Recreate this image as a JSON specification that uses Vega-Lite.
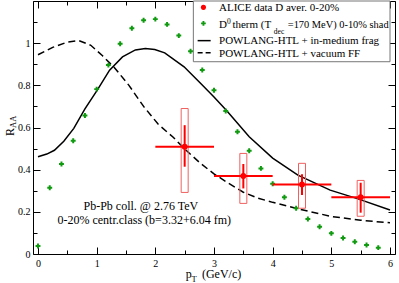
{
  "$schema": "https://vega.github.io/schema/vega-lite/v6.json",
  "width": 362,
  "height": 253,
  "autosize": {"type": "none"},
  "padding": {"left": 33, "top": 1, "right": 4, "bottom": 29},
  "background": "white",
  "config": {
    "view": {"stroke": "black", "strokeWidth": 1},
    "font": "Liberation Serif",
    "text": {"font": "Liberation Serif", "color": "black"}
  },
  "data": {"values": [{}]},
  "datasets": {
    "therm": [
      {"pt": 0.0, "raa": 0.038}, {"pt": 0.2, "raa": 0.314}, {"pt": 0.4, "raa": 0.427}, {"pt": 0.6, "raa": 0.537},
      {"pt": 0.8, "raa": 0.657}, {"pt": 1.0, "raa": 0.782}, {"pt": 1.2, "raa": 0.896}, {"pt": 1.4, "raa": 0.997},
      {"pt": 1.6, "raa": 1.071}, {"pt": 1.8, "raa": 1.109}, {"pt": 2.0, "raa": 1.114}, {"pt": 2.2, "raa": 1.089},
      {"pt": 2.4, "raa": 1.036}, {"pt": 2.6, "raa": 0.962}, {"pt": 2.8, "raa": 0.873}, {"pt": 3.0, "raa": 0.777},
      {"pt": 3.2, "raa": 0.678}, {"pt": 3.4, "raa": 0.58}, {"pt": 3.6, "raa": 0.49}, {"pt": 3.8, "raa": 0.406},
      {"pt": 4.0, "raa": 0.333}, {"pt": 4.2, "raa": 0.269}, {"pt": 4.4, "raa": 0.217}, {"pt": 4.6, "raa": 0.166},
      {"pt": 4.8, "raa": 0.129}, {"pt": 5.0, "raa": 0.098}, {"pt": 5.2, "raa": 0.076}, {"pt": 5.4, "raa": 0.058},
      {"pt": 5.6, "raa": 0.043}, {"pt": 5.8, "raa": 0.03}
    ],
    "solid": [
      {"pt": 0.0, "raa": 0.461}, {"pt": 0.15, "raa": 0.474}, {"pt": 0.28, "raa": 0.492}, {"pt": 0.44, "raa": 0.535},
      {"pt": 0.61, "raa": 0.596}, {"pt": 0.8, "raa": 0.688}, {"pt": 1.01, "raa": 0.777}, {"pt": 1.22, "raa": 0.872},
      {"pt": 1.44, "raa": 0.935}, {"pt": 1.66, "raa": 0.968}, {"pt": 1.83, "raa": 0.975}, {"pt": 1.99, "raa": 0.97},
      {"pt": 2.16, "raa": 0.954}, {"pt": 2.49, "raa": 0.888}, {"pt": 2.77, "raa": 0.81}, {"pt": 3.0, "raa": 0.745},
      {"pt": 3.21, "raa": 0.682}, {"pt": 3.6, "raa": 0.556}, {"pt": 4.0, "raa": 0.455}, {"pt": 4.43, "raa": 0.374},
      {"pt": 4.98, "raa": 0.303}, {"pt": 5.43, "raa": 0.264}, {"pt": 6.0, "raa": 0.209}
    ],
    "dashed": [
      {"pt": 0.0, "raa": 0.945}, {"pt": 0.25, "raa": 0.98}, {"pt": 0.5, "raa": 1.005}, {"pt": 0.7, "raa": 1.012},
      {"pt": 0.9, "raa": 0.99}, {"pt": 1.1, "raa": 0.94}, {"pt": 1.3, "raa": 0.885}, {"pt": 1.55, "raa": 0.8},
      {"pt": 1.8, "raa": 0.7}, {"pt": 2.05, "raa": 0.615}, {"pt": 2.3, "raa": 0.555}, {"pt": 2.52, "raa": 0.493},
      {"pt": 2.77, "raa": 0.43}, {"pt": 3.0, "raa": 0.38}, {"pt": 3.25, "raa": 0.335}, {"pt": 3.5, "raa": 0.293},
      {"pt": 3.75, "raa": 0.265}, {"pt": 4.0, "raa": 0.245}, {"pt": 4.5, "raa": 0.21}, {"pt": 5.0, "raa": 0.178},
      {"pt": 5.5, "raa": 0.16}, {"pt": 6.0, "raa": 0.148}
    ],
    "alice": [
      {"pt": 2.5, "raa": 0.509, "ptlo": 2, "pthi": 3, "statlo": 0.414, "stathi": 0.611, "syslo": 0.292, "syshi": 0.69},
      {"pt": 3.5, "raa": 0.37, "ptlo": 3, "pthi": 4, "statlo": 0.311, "stathi": 0.427, "syslo": 0.24, "syshi": 0.477},
      {"pt": 4.5, "raa": 0.33, "ptlo": 4, "pthi": 5, "statlo": 0.28, "stathi": 0.378, "syslo": 0.217, "syshi": 0.43},
      {"pt": 5.5, "raa": 0.269, "ptlo": 5, "pthi": 6, "statlo": 0.196, "stathi": 0.338, "syslo": 0.179, "syshi": 0.349}
    ]
  },
  "resolve": {"axis": {"x": "independent", "y": "independent"}},
  "layer": [
    {
      "data": {"name": "solid"},
      "mark": {"type": "line", "color": "black", "strokeWidth": 1.5},
      "encoding": {
        "x": {"field": "pt", "type": "quantitative", "scale": {"domain": [0, 6], "nice": false, "zero": false},
          "axis": {"orient": "bottom", "title": null, "domain": false, "grid": false,
            "values": [0, 0.5, 1, 1.5, 2, 2.5, 3, 3.5, 4, 4.5, 5, 5.5, 6],
            "labelExpr": "round(datum.value*2) % 2 == 1 ? '' : toString(datum.value)",
            "tickSize": {"condition": {"test": "round(datum.value*2) % 2 == 1", "value": -4}, "value": -7},
            "tickColor": "black", "labelColor": "black", "labelFont": "Liberation Serif", "labelFontSize": 10,
            "labelPadding": 11, "labelFlush": false, "labelOverlap": false}},
        "y": {"field": "raa", "type": "quantitative", "scale": {"domain": [0, 1.2], "nice": false, "zero": false},
          "axis": {"orient": "left", "title": null, "domain": false, "grid": false,
            "values": [0, 0.1, 0.2, 0.3, 0.4, 0.5, 0.6, 0.7, 0.8, 0.9, 1, 1.1, 1.2],
            "labelExpr": "(round(datum.value*10) % 2 == 1 || datum.value > 1.1) ? '' : toString(round(datum.value*10)/10)",
            "tickSize": {"condition": {"test": "round(datum.value*10) % 2 == 1", "value": -4}, "value": -7},
            "tickColor": "black", "labelColor": "black", "labelFont": "Liberation Serif", "labelFontSize": 10,
            "labelPadding": 10, "labelFlush": false, "labelOverlap": false}}
      }
    },
    {
      "data": {"name": "dashed"},
      "mark": {"type": "line", "color": "black", "strokeWidth": 1.5, "strokeDash": [7, 4]},
      "encoding": {
        "x": {"field": "pt", "type": "quantitative",
          "axis": {"orient": "top", "title": null, "domain": false, "grid": false, "labels": false,
            "values": [0, 0.5, 1, 1.5, 2, 2.5, 3, 3.5, 4, 4.5, 5, 5.5, 6],
            "tickSize": {"condition": {"test": "round(datum.value*2) % 2 == 1", "value": -4}, "value": -7},
            "tickColor": "black"}},
        "y": {"field": "raa", "type": "quantitative",
          "axis": {"orient": "right", "title": null, "domain": false, "grid": false, "labels": false,
            "values": [0, 0.1, 0.2, 0.3, 0.4, 0.5, 0.6, 0.7, 0.8, 0.9, 1, 1.1, 1.2],
            "tickSize": {"condition": {"test": "round(datum.value*10) % 2 == 1", "value": -4}, "value": -7},
            "tickColor": "black"}}
      }
    },
    {
      "data": {"name": "therm"},
      "mark": {"type": "point", "shape": "cross", "filled": true, "color": "#109a10", "size": 24, "opacity": 1},
      "encoding": {
        "x": {"field": "pt", "type": "quantitative", "axis": null},
        "y": {"field": "raa", "type": "quantitative", "axis": null}
      }
    },
    {
      "data": {"name": "alice"},
      "mark": {"type": "bar", "width": 7, "fill": null, "fillOpacity": 0, "stroke": "#f06060", "strokeWidth": 1},
      "encoding": {
        "x": {"field": "pt", "type": "quantitative", "axis": null},
        "y": {"field": "syslo", "type": "quantitative", "axis": null},
        "y2": {"field": "syshi"}
      }
    },
    {
      "data": {"name": "alice"},
      "mark": {"type": "rule", "color": "red", "strokeWidth": 2},
      "encoding": {
        "x": {"field": "ptlo", "type": "quantitative", "axis": null},
        "x2": {"field": "pthi"},
        "y": {"field": "raa", "type": "quantitative", "axis": null}
      }
    },
    {
      "data": {"name": "alice"},
      "mark": {"type": "rule", "color": "red", "strokeWidth": 2},
      "encoding": {
        "x": {"field": "pt", "type": "quantitative", "axis": null},
        "y": {"field": "statlo", "type": "quantitative", "axis": null},
        "y2": {"field": "stathi"}
      }
    },
    {
      "data": {"name": "alice"},
      "mark": {"type": "point", "shape": "circle", "filled": true, "color": "red", "size": 34, "opacity": 1},
      "encoding": {
        "x": {"field": "pt", "type": "quantitative", "axis": null},
        "y": {"field": "raa", "type": "quantitative", "axis": null}
      }
    },
    {
      "mark": {"type": "rect", "fill": "white", "stroke": "#777", "strokeWidth": 1},
      "encoding": {
        "x": {"datum": 2.648, "type": "quantitative", "axis": null},
        "x2": {"datum": 6},
        "y": {"datum": 1.2, "type": "quantitative", "axis": null},
        "y2": {"datum": 0.912}
      }
    },
    {
      "mark": {"type": "point", "shape": "circle", "filled": true, "color": "red", "size": 26, "opacity": 1},
      "encoding": {"x": {"datum": 2.82, "type": "quantitative", "axis": null}, "y": {"datum": 1.17, "type": "quantitative", "axis": null}}
    },
    {
      "mark": {"type": "point", "shape": "cross", "filled": true, "color": "#109a10", "size": 22, "opacity": 1},
      "encoding": {"x": {"datum": 2.82, "type": "quantitative", "axis": null}, "y": {"datum": 1.094, "type": "quantitative", "axis": null}}
    },
    {
      "mark": {"type": "rule", "color": "black", "strokeWidth": 1.5},
      "encoding": {"x": {"datum": 2.721, "type": "quantitative", "axis": null}, "x2": {"datum": 2.943}, "y": {"datum": 1.012, "type": "quantitative", "axis": null}}
    },
    {
      "mark": {"type": "rule", "color": "black", "strokeWidth": 1.5, "strokeDash": [5, 3]},
      "encoding": {"x": {"datum": 2.721, "type": "quantitative", "axis": null}, "x2": {"datum": 2.943}, "y": {"datum": 0.955, "type": "quantitative", "axis": null}}
    },
    {
      "mark": {"type": "text", "text": "ALICE data D aver. 0-20%", "align": "left", "baseline": "alphabetic", "fontSize": 11},
      "encoding": {"x": {"datum": 3.086, "type": "quantitative", "axis": null}, "y": {"datum": 1.1513, "type": "quantitative", "axis": null}}
    },
    {
      "mark": {"type": "text", "text": "D", "align": "left", "baseline": "alphabetic", "fontSize": 11},
      "encoding": {"x": {"datum": 3.086, "type": "quantitative", "axis": null}, "y": {"datum": 1.0721, "type": "quantitative", "axis": null}}
    },
    {
      "mark": {"type": "text", "text": "0", "align": "left", "baseline": "alphabetic", "fontSize": 7.5},
      "encoding": {"x": {"datum": 3.222, "type": "quantitative", "axis": null}, "y": {"datum": 1.093, "type": "quantitative", "axis": null}}
    },
    {
      "mark": {"type": "text", "text": "therm (T", "align": "right", "baseline": "alphabetic", "fontSize": 11},
      "encoding": {"x": {"datum": 3.975, "type": "quantitative", "axis": null}, "y": {"datum": 1.0721, "type": "quantitative", "axis": null}}
    },
    {
      "mark": {"type": "text", "text": "dec", "align": "left", "baseline": "alphabetic", "fontSize": 7.5},
      "encoding": {"x": {"datum": 4.02, "type": "quantitative", "axis": null}, "y": {"datum": 1.0436, "type": "quantitative", "axis": null}}
    },
    {
      "mark": {"type": "text", "text": "=170 MeV) 0-10% shad", "align": "left", "baseline": "alphabetic", "fontSize": 10.4},
      "encoding": {"x": {"datum": 4.258, "type": "quantitative", "axis": null}, "y": {"datum": 1.0721, "type": "quantitative", "axis": null}}
    },
    {
      "mark": {"type": "text", "text": "POWLANG-HTL + in-medium frag", "align": "left", "baseline": "alphabetic", "fontSize": 11},
      "encoding": {"x": {"datum": 3.086, "type": "quantitative", "axis": null}, "y": {"datum": 0.9962, "type": "quantitative", "axis": null}}
    },
    {
      "mark": {"type": "text", "text": "POWLANG-HTL + vacuum FF", "align": "left", "baseline": "alphabetic", "fontSize": 11},
      "encoding": {"x": {"datum": 3.086, "type": "quantitative", "axis": null}, "y": {"datum": 0.9331, "type": "quantitative", "axis": null}}
    },
    {
      "mark": {"type": "text", "text": "Pb-Pb coll. @ 2.76 TeV", "align": "left", "baseline": "alphabetic", "fontSize": 12},
      "encoding": {"x": {"datum": 0.776, "type": "quantitative", "axis": null}, "y": {"datum": 0.211, "type": "quantitative", "axis": null}}
    },
    {
      "mark": {"type": "text", "text": "0-20% centr.class (b=3.32+6.04 fm)", "align": "left", "baseline": "alphabetic", "fontSize": 12},
      "encoding": {"x": {"datum": 0.332, "type": "quantitative", "axis": null}, "y": {"datum": 0.14, "type": "quantitative", "axis": null}}
    },
    {
      "mark": {"type": "text", "text": "p", "align": "left", "baseline": "alphabetic", "fontSize": 12},
      "encoding": {"x": {"datum": 2.517, "type": "quantitative", "axis": null}, "y": {"datum": -0.1162, "type": "quantitative", "axis": null}}
    },
    {
      "mark": {"type": "text", "text": "T", "align": "left", "baseline": "alphabetic", "fontSize": 8.5},
      "encoding": {"x": {"datum": 2.616, "type": "quantitative", "axis": null}, "y": {"datum": -0.1305, "type": "quantitative", "axis": null}}
    },
    {
      "mark": {"type": "text", "text": "(GeV/c)", "align": "left", "baseline": "alphabetic", "fontSize": 12},
      "encoding": {"x": {"datum": 2.794, "type": "quantitative", "axis": null}, "y": {"datum": -0.1162, "type": "quantitative", "axis": null}}
    },
    {
      "mark": {"type": "text", "text": "R", "align": "left", "baseline": "alphabetic", "fontSize": 12, "angle": 270},
      "encoding": {"x": {"datum": -0.4143, "type": "quantitative", "axis": null}, "y": {"datum": 0.56, "type": "quantitative", "axis": null}}
    },
    {
      "mark": {"type": "text", "text": "AA", "align": "left", "baseline": "alphabetic", "fontSize": 8.5, "angle": 270},
      "encoding": {"x": {"datum": -0.37, "type": "quantitative", "axis": null}, "y": {"datum": 0.598, "type": "quantitative", "axis": null}}
    }
  ]
}
